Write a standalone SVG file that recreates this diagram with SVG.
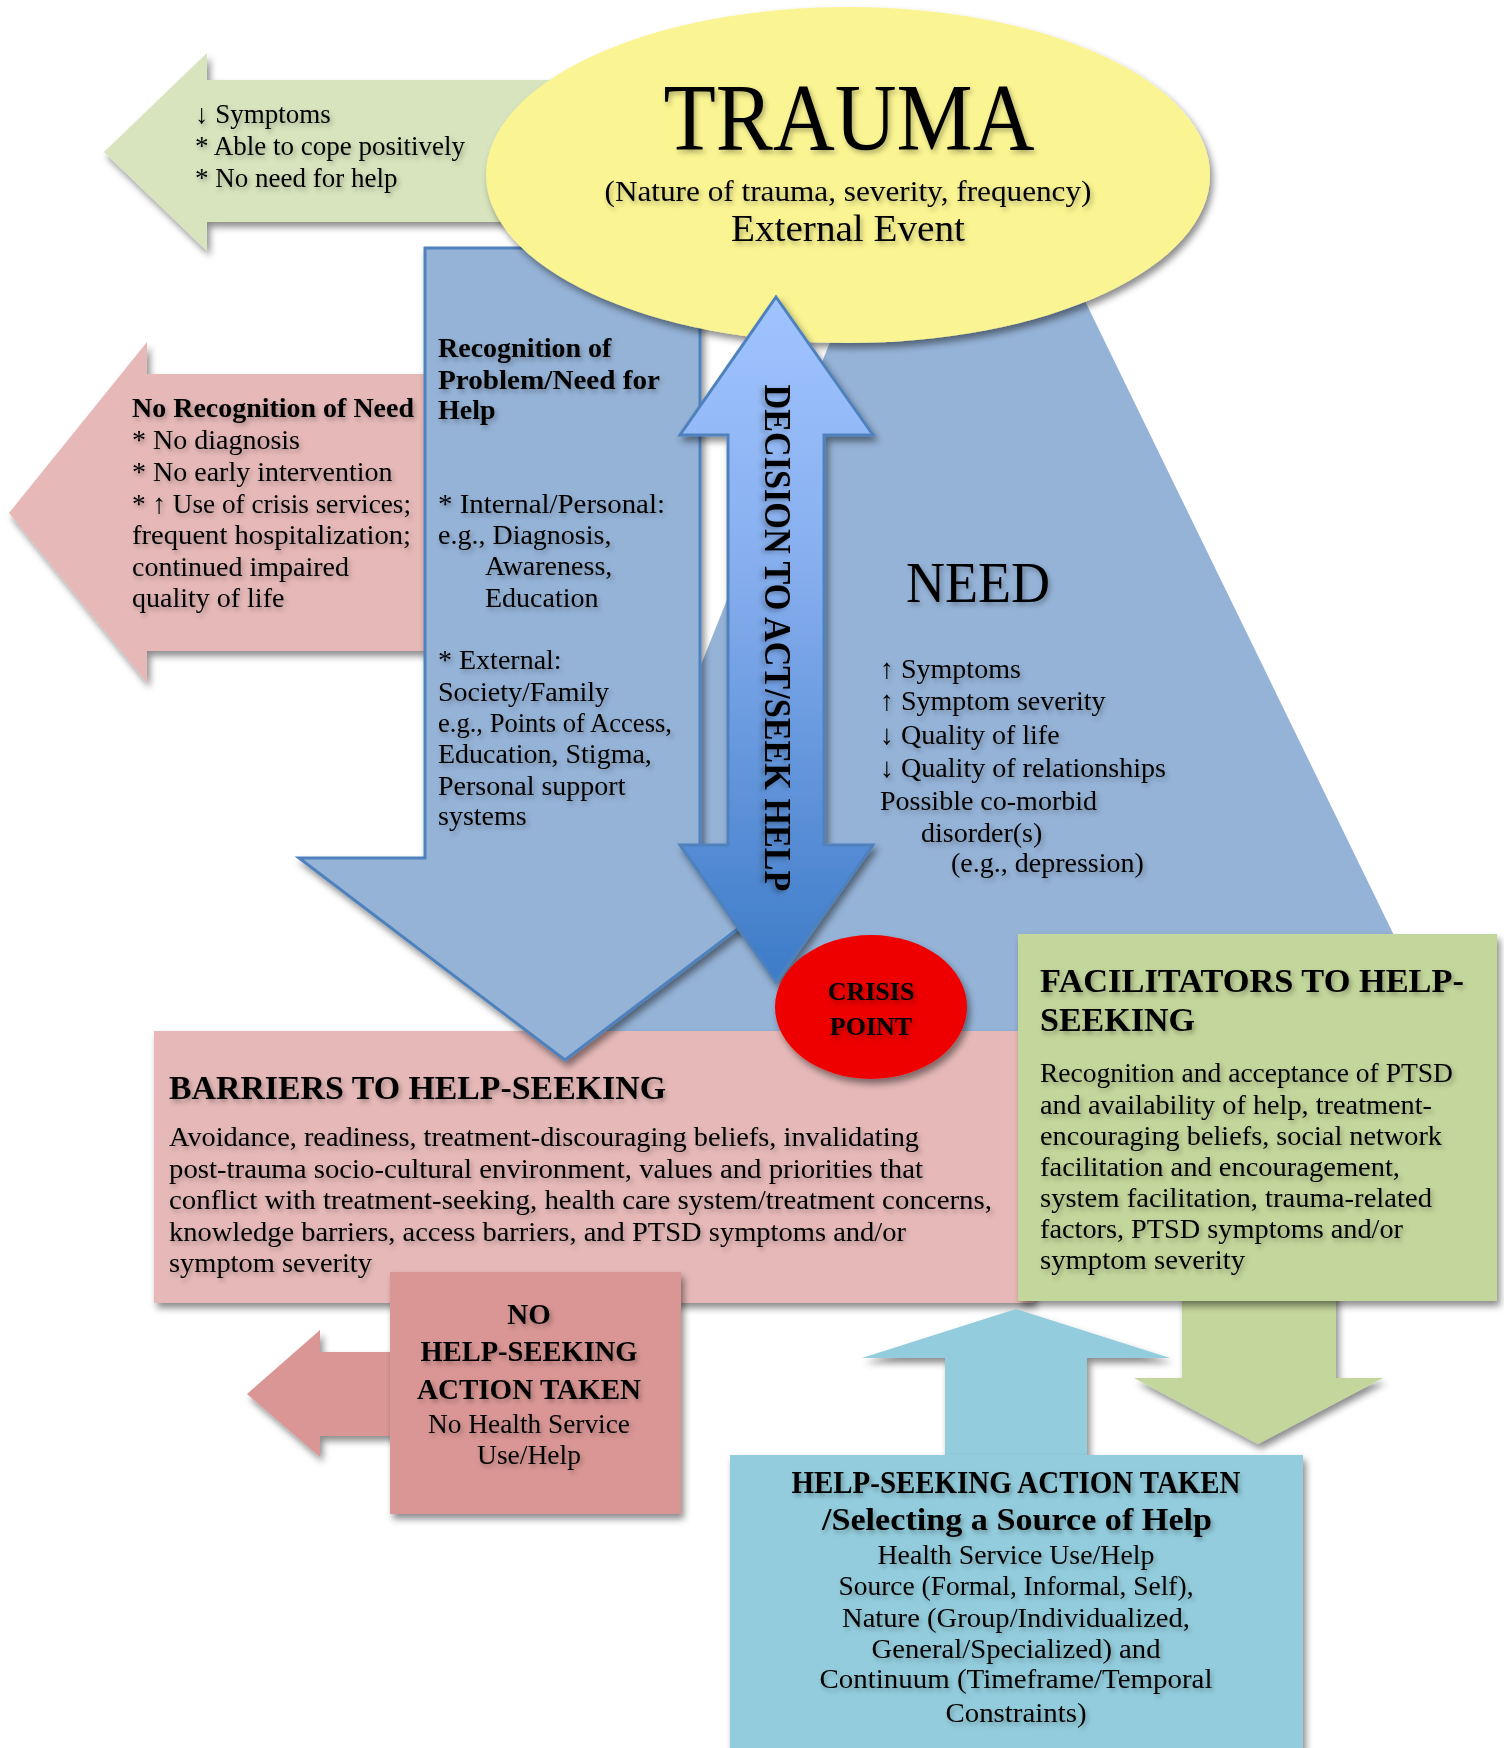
<svg xmlns="http://www.w3.org/2000/svg" width="1504" height="1748" viewBox="0 0 1504 1748">
<defs>
  <filter id="sh" x="-10%" y="-10%" width="125%" height="125%">
    <feDropShadow dx="3" dy="5" stdDeviation="3.5" flood-color="#000" flood-opacity="0.45"/>
  </filter>
  <filter id="ts" x="-5%" y="-20%" width="115%" height="150%">
    <feDropShadow dx="2" dy="3" stdDeviation="2.5" flood-color="#000" flood-opacity="0.3"/>
  </filter>
  <linearGradient id="dgrad" x1="0" y1="297" x2="0" y2="982" gradientUnits="userSpaceOnUse">
    <stop offset="0" stop-color="#A0C4FF"/>
    <stop offset="0.4" stop-color="#86AEEE"/>
    <stop offset="1" stop-color="#3D7BC8"/>
  </linearGradient>
  <style>
    text { font-family: "Liberation Serif", "Times New Roman", serif; fill: #000; }
    .txt { filter: url(#ts); }
    .b { font-weight: bold; }
    .m { text-anchor: middle; }
    .s27 { font-size: 27px; }
    .s28 { font-size: 28px; }
    .blue { fill: #95B3D7; }
    .pink { fill: #E6B9B8; }
    .lgreen { fill: #D7E4BD; }
    .green { fill: #C3D69B; }
    .rose { fill: #D99694; }
    .aqua { fill: #93CDDD; }
    .outl { stroke: #4F81BD; stroke-width: 3; stroke-linejoin: miter; }
  </style>
</defs>
<rect width="1504" height="1748" fill="#fff"/>

<g id="coping-arrow">
  <polygon class="lgreen" filter="url(#sh)" points="104,152 207,53 207,80 560,80 560,222 207,222 207,251"/>
  <g class="txt s27">
    <text x="195" y="123">↓ Symptoms</text>
    <text x="195" y="155">* Able to cope positively</text>
    <text x="195" y="187">* No need for help</text>
  </g>
</g>

<g id="no-recognition-arrow">
  <polygon class="pink" filter="url(#sh)" points="9,513 147,342 147,374 440,374 440,651 147,651 147,683"/>
  <g class="txt s28">
    <text x="132" y="417" class="b" textLength="282" lengthAdjust="spacingAndGlyphs">No Recognition of Need</text>
    <text x="132" y="449">* No diagnosis</text>
    <text x="132" y="481">* No early intervention</text>
    <text x="132" y="513" textLength="279" lengthAdjust="spacingAndGlyphs">* ↑ Use of crisis services;</text>
    <text x="132" y="544" textLength="279" lengthAdjust="spacingAndGlyphs">frequent hospitalization;</text>
    <text x="132" y="576">continued impaired</text>
    <text x="132" y="607">quality of life</text>
  </g>
</g>

<g id="need">
  <polygon class="blue" points="954,32 1445,1040 551,1040"/>
  <text x="906" y="602" class="txt" font-size="56" textLength="144" lengthAdjust="spacingAndGlyphs">NEED</text>
  <g class="txt s28">
    <text x="880" y="678">↑ Symptoms</text>
    <text x="880" y="710">↑ Symptom severity</text>
    <text x="880" y="744">↓ Quality of life</text>
    <text x="880" y="777" textLength="286" lengthAdjust="spacingAndGlyphs">↓ Quality of relationships</text>
    <text x="880" y="810">Possible co-morbid</text>
    <text x="921" y="842">disorder(s)</text>
    <text x="951" y="872">(e.g., depression)</text>
  </g>
</g>

<g id="barriers">
  <rect class="pink" filter="url(#sh)" x="154" y="1031" width="880" height="272"/>
  <text x="169" y="1099" class="txt b" font-size="34" textLength="497" lengthAdjust="spacingAndGlyphs">BARRIERS TO HELP-SEEKING</text>
  <g class="txt s28">
    <text x="169" y="1146" textLength="750" lengthAdjust="spacingAndGlyphs">Avoidance, readiness, treatment-discouraging beliefs, invalidating</text>
    <text x="169" y="1178" textLength="754" lengthAdjust="spacingAndGlyphs">post-trauma socio-cultural environment, values and priorities that</text>
    <text x="169" y="1209" textLength="823" lengthAdjust="spacingAndGlyphs">conflict with treatment-seeking, health care system/treatment concerns,</text>
    <text x="169" y="1241" textLength="737" lengthAdjust="spacingAndGlyphs">knowledge barriers, access barriers, and PTSD symptoms and/or</text>
    <text x="169" y="1272" textLength="203" lengthAdjust="spacingAndGlyphs">symptom severity</text>
  </g>
</g>

<g id="recognition-arrow">
  <polygon class="blue outl" filter="url(#sh)" points="425,248 700,248 700,858 831,858 565,1060 299,858 425,858"/>
  <g class="txt s28">
    <text x="438" y="357" class="b">Recognition of</text>
    <text x="438" y="389" class="b" textLength="222" lengthAdjust="spacingAndGlyphs">Problem/Need for</text>
    <text x="438" y="419" class="b">Help</text>
    <text x="438" y="513" textLength="227" lengthAdjust="spacingAndGlyphs">* Internal/Personal:</text>
    <text x="438" y="544">e.g., Diagnosis,</text>
    <text x="485" y="575">Awareness,</text>
    <text x="485" y="607">Education</text>
    <text x="438" y="669">* External:</text>
    <text x="438" y="701">Society/Family</text>
    <text x="438" y="732" textLength="234" lengthAdjust="spacingAndGlyphs">e.g., Points of Access,</text>
    <text x="438" y="763">Education, Stigma,</text>
    <text x="438" y="795">Personal support</text>
    <text x="438" y="825">systems</text>
  </g>
</g>

<g id="trauma">
  <ellipse cx="848" cy="175" rx="362" ry="168" fill="#FAF492" filter="url(#sh)"/>
  <text x="849" y="150" class="txt m" font-size="96" textLength="371" lengthAdjust="spacingAndGlyphs">TRAUMA</text>
  <text x="848" y="201" class="txt m" font-size="30" textLength="487" lengthAdjust="spacingAndGlyphs">(Nature of trauma, severity, frequency)</text>
  <text x="848" y="241" class="txt m" font-size="37" textLength="234" lengthAdjust="spacingAndGlyphs">External Event</text>
</g>

<g id="decision-arrow">
  <polygon fill="url(#dgrad)" class="outl" filter="url(#sh)" points="776,297 873,435 824,435 824,845 873,845 776,982 680,845 728,845 728,435 680,435"/>
  <text transform="translate(765,638) rotate(90)" class="txt b m" font-size="37" textLength="507" lengthAdjust="spacingAndGlyphs">DECISION TO ACT/SEEK HELP</text>
</g>

<g id="crisis-point">
  <ellipse cx="871" cy="1007" rx="96" ry="72" fill="#EE0000" filter="url(#sh)"/>
  <text x="871" y="1000" class="txt b m" font-size="26">CRISIS</text>
  <text x="871" y="1035" class="txt b m" font-size="26">POINT</text>
</g>

<g id="connectors">
  <polygon class="rose" filter="url(#sh)" points="400,1352 320,1352 320,1330 247,1394 320,1457 320,1436 400,1436"/>
  <polygon class="aqua" filter="url(#sh)" points="1016,1309 1170,1358 1087,1358 1087,1465 945,1465 945,1358 862,1358"/>
  <polygon class="green" filter="url(#sh)" points="1182,1290 1336,1290 1336,1378 1383,1378 1258,1444 1134,1378 1182,1378"/>
</g>

<g id="facilitators">
  <rect class="green" filter="url(#sh)" x="1018" y="934" width="479" height="367"/>
  <text x="1040" y="992" class="txt b" font-size="34" textLength="424" lengthAdjust="spacingAndGlyphs">FACILITATORS TO HELP-</text>
  <text x="1040" y="1031" class="txt b" font-size="34">SEEKING</text>
  <g class="txt s28">
    <text x="1040" y="1082" textLength="413" lengthAdjust="spacingAndGlyphs">Recognition and acceptance of PTSD</text>
    <text x="1040" y="1114" textLength="392" lengthAdjust="spacingAndGlyphs">and availability of help, treatment-</text>
    <text x="1040" y="1145" textLength="402" lengthAdjust="spacingAndGlyphs">encouraging beliefs, social network</text>
    <text x="1040" y="1176" textLength="360" lengthAdjust="spacingAndGlyphs">facilitation and encouragement,</text>
    <text x="1040" y="1207" textLength="392" lengthAdjust="spacingAndGlyphs">system facilitation, trauma-related</text>
    <text x="1040" y="1238" textLength="363" lengthAdjust="spacingAndGlyphs">factors, PTSD symptoms and/or</text>
    <text x="1040" y="1269" textLength="205" lengthAdjust="spacingAndGlyphs">symptom severity</text>
  </g>
</g>

<g id="no-help-seeking">
  <rect class="rose" filter="url(#sh)" x="390" y="1272" width="291" height="242"/>
  <g class="txt b m" font-size="29">
    <text x="529" y="1324">NO</text>
    <text x="529" y="1361" textLength="217" lengthAdjust="spacingAndGlyphs">HELP-SEEKING</text>
    <text x="529" y="1399" textLength="224" lengthAdjust="spacingAndGlyphs">ACTION TAKEN</text>
  </g>
  <g class="txt m" font-size="27.5">
    <text x="529" y="1433" textLength="202" lengthAdjust="spacingAndGlyphs">No Health Service</text>
    <text x="529" y="1464">Use/Help</text>
  </g>
</g>

<g id="help-seeking-action">
  <rect class="aqua" filter="url(#sh)" x="730" y="1455" width="573" height="310"/>
  <text x="1016" y="1493" class="txt b m" font-size="31" textLength="449" lengthAdjust="spacingAndGlyphs">HELP-SEEKING ACTION TAKEN</text>
  <text x="1017" y="1530" class="txt b m" font-size="32" textLength="390" lengthAdjust="spacingAndGlyphs">/Selecting a Source of Help</text>
  <g class="txt m s28">
    <text x="1016" y="1564" textLength="277" lengthAdjust="spacingAndGlyphs">Health Service Use/Help</text>
    <text x="1016" y="1595" textLength="355" lengthAdjust="spacingAndGlyphs">Source (Formal, Informal, Self),</text>
    <text x="1016" y="1627" textLength="348" lengthAdjust="spacingAndGlyphs">Nature (Group/Individualized,</text>
    <text x="1016" y="1658" textLength="289" lengthAdjust="spacingAndGlyphs">General/Specialized) and</text>
    <text x="1016" y="1688" textLength="393" lengthAdjust="spacingAndGlyphs">Continuum (Timeframe/Temporal</text>
    <text x="1016" y="1722" textLength="141" lengthAdjust="spacingAndGlyphs">Constraints)</text>
  </g>
</g>
</svg>
